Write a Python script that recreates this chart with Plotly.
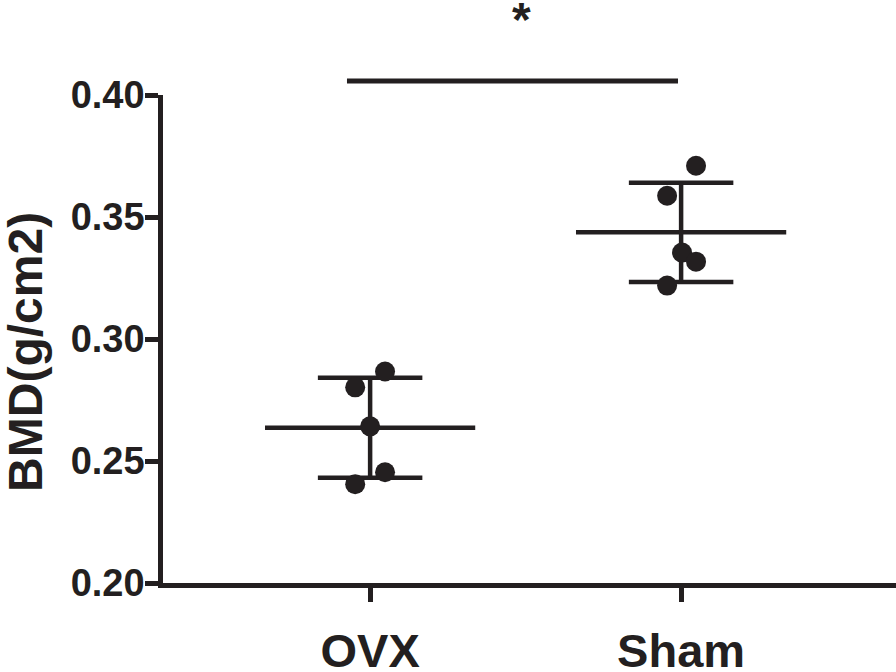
import plotly.graph_objects as go

# ---- data ----
groups = ["OVX", "Sham"]
ovx_values = [0.2867, 0.2802, 0.2642, 0.2454, 0.2405]
sham_values = [0.3710, 0.3587, 0.3354, 0.3317, 0.3219]
group_means = [0.2636, 0.3437]
group_sds = [0.0205, 0.0203]
y_ticks = [0.20, 0.25, 0.30, 0.35, 0.40]

# ---- styling / layout helpers (not data) ----
INK = "#231f20"
FONT = "Liberation Sans, Arial, sans-serif"
ovx_offsets = [0.048, -0.048, 0.0, 0.048, -0.048]
sham_offsets = [0.048, -0.045, 0.003, 0.048, -0.045]
mean_half = 0.338
sd_half = 0.168

fig = go.Figure()

series = [ovx_values, sham_values]
offsets = [ovx_offsets, sham_offsets]

for gi, (vals, offs) in enumerate(zip(series, offsets)):
    xc = gi + 1
    m, s = group_means[gi], group_sds[gi]
    xs = [xc - mean_half, xc + mean_half, None,
          xc - sd_half, xc + sd_half, None,
          xc - sd_half, xc + sd_half, None,
          xc, xc]
    ys = [m, m, None,
          m + s, m + s, None,
          m - s, m - s, None,
          m + s, m - s]
    fig.add_trace(go.Scatter(x=xs, y=ys, mode="lines",
                             line=dict(color=INK, width=4.5),
                             hoverinfo="skip", showlegend=False))
    fig.add_trace(go.Scatter(x=[xc + o for o in offs], y=vals, mode="markers",
                             marker=dict(color=INK, size=20, line=dict(width=0)),
                             name=groups[gi], showlegend=False, cliponaxis=False))

fig.update_layout(
    width=896, height=672,
    margin=dict(l=163, r=0, t=95, b=89),
    paper_bgcolor="white", plot_bgcolor="white",
    font=dict(family=FONT, color=INK),
    xaxis=dict(
        range=[0.334, 2.691],
        tickvals=[1, 2], ticktext=groups,
        showgrid=False, zeroline=False, automargin=False,
        showline=True, linecolor=INK, linewidth=4.5,
        ticks="outside", ticklen=14, tickwidth=4.5, tickcolor=INK,
        tickfont=dict(family=FONT, size=47, color=INK, weight="bold"),
        ticklabelstandoff=9,
    ),
    yaxis=dict(
        range=[0.20, 0.40],
        tickvals=y_ticks, tickformat=".2f",
        showgrid=False, zeroline=False, automargin=False,
        showline=True, linecolor=INK, linewidth=4.5,
        ticks="outside", ticklen=13, tickwidth=4.5, tickcolor=INK,
        tickfont=dict(family=FONT, size=38, color=INK, weight="bold"),
        ticklabelstandoff=-7,
    ),
    shapes=[dict(type="line", xref="paper", yref="paper",
                 x0=0.251, x1=0.7026, y0=1.0287, y1=1.0287,
                 line=dict(color=INK, width=5))],
    annotations=[
        dict(text="*", xref="paper", yref="paper", x=0.489, y=1.155,
             xanchor="center", yanchor="middle", showarrow=False,
             font=dict(family=FONT, size=48, color=INK, weight="bold")),
        dict(text="BMD(g/cm2)", xref="paper", yref="paper", x=-0.188, y=0.474,
             xanchor="center", yanchor="middle", textangle=-90, showarrow=False,
             font=dict(family=FONT, size=48, color=INK, weight="bold")),
    ],
)

fig.write_html("out.html", config={"displayModeBar": False},
               post_script="document.body.style.margin='0';")
